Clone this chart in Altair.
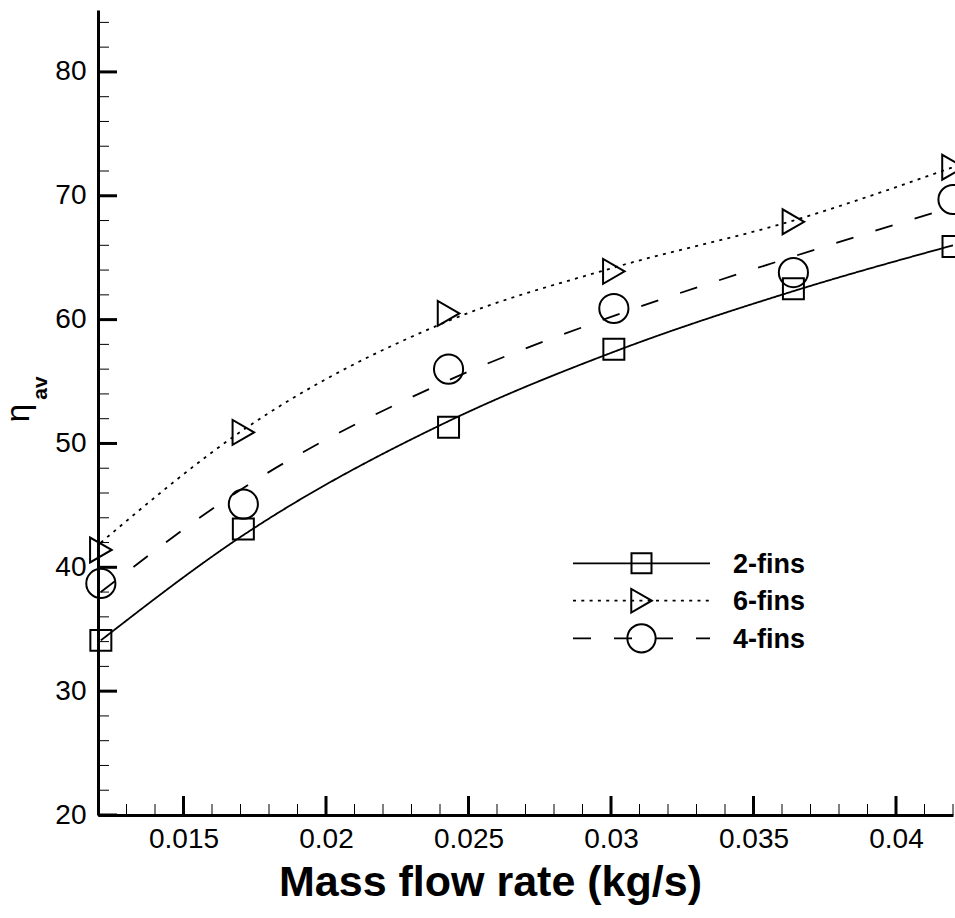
import altair as alt
import pandas as pd

# ---- data ----
mass_flow = [0.0121, 0.0171, 0.0243, 0.0301, 0.0364, 0.042]
fins2 = [34.1, 43.1, 51.3, 57.6, 62.5, 65.9]
fins6 = [41.4, 50.9, 60.5, 63.9, 67.9, 72.3]
fins4 = [38.7, 45.1, 56.0, 60.9, 63.8, 69.7]
# fitted curve values at the same abscissae
fit2 = [34.1, 42.6, 51.8, 57.4, 62.3, 66.0]
fit6 = [42.0, 51.1, 59.9, 64.2, 68.0, 72.3]
fit4 = [38.0, 46.4, 55.1, 60.3, 65.1, 69.1]

series_names = ["2-fins", "6-fins", "4-fins"]
x_major = [0.015, 0.02, 0.025, 0.03, 0.035, 0.04]
x_minor = [0.013, 0.014, 0.016, 0.017, 0.018, 0.019, 0.021, 0.022, 0.023, 0.024,
           0.026, 0.027, 0.028, 0.029, 0.031, 0.032, 0.033, 0.034, 0.036, 0.037,
           0.038, 0.039, 0.041, 0.042]
y_major = [20, 30, 40, 50, 60, 70, 80]
y_minor = [22, 24, 26, 28, 32, 34, 36, 38, 42, 44, 46, 48, 52, 54, 56, 58,
           62, 64, 66, 68, 72, 74, 76, 78, 82, 84]

# ---- styles ----
W, H = 855, 805
FONT = "Liberation Sans"
shapes = ["square", "triangle-right", "circle"]
sizes = [440, 620, 850]
dashes = [[1, 0], [3, 5.3], [18, 23]]

xs = alt.Scale(domain=[0.012, 0.042], nice=False, zero=False)
ys = alt.Scale(domain=[20, 85], nice=False, zero=False)

x_axis = alt.Axis(values=x_major, format="~g", ticks=False, grid=False,
                  domainWidth=3, domainColor="black",
                  labelFont=FONT, labelFontSize=28, labelColor="black",
                  labelPadding=10, labelFlush=False, labelOverlap=False,
                  title="Mass flow rate (kg/s)", titleFont=FONT, titleFontSize=43,
                  titleFontWeight="bold", titleColor="black",
                  titleX=392, titleY=80, titleAlign="center",
                  titleBaseline="alphabetic")
y_axis = alt.Axis(values=y_major, format="d", ticks=False, grid=False,
                  domainWidth=3, domainColor="black",
                  labelFont=FONT, labelFontSize=28, labelColor="black",
                  labelPadding=12, labelFlush=False, labelOverlap=False,
                  title=None)

X = alt.X("x:Q", scale=xs, axis=x_axis)
Y = alt.Y("y:Q", scale=ys, axis=y_axis)

layers = []
pts = [fins2, fins6, fins4]
fits = [fit2, fit6, fit4]
for i, name in enumerate(series_names):
    df_fit = pd.DataFrame({"x": mass_flow, "y": fits[i]})
    df_pts = pd.DataFrame({"x": mass_flow, "y": pts[i]})
    layers.append(
        alt.Chart(df_fit).mark_line(interpolate="monotone", color="black",
                                    strokeWidth=1.8, strokeDash=dashes[i])
        .encode(x=X, y=Y)
    )
    layers.append(
        alt.Chart(df_pts).mark_point(shape=shapes[i], size=sizes[i], filled=False,
                                     color="black", strokeWidth=2, opacity=1)
        .encode(x=X, y=Y)
    )

# ---- inward ticks ----
layers.append(alt.Chart(pd.DataFrame({"x": x_major})).mark_rule(color="black", strokeWidth=3)
              .encode(x=X, y=alt.value(H), y2=alt.value(H - 19)))
layers.append(alt.Chart(pd.DataFrame({"x": x_minor})).mark_rule(color="black", strokeWidth=1)
              .encode(x=X, y=alt.value(H), y2=alt.value(H - 11)))
layers.append(alt.Chart(pd.DataFrame({"y": y_major})).mark_rule(color="black", strokeWidth=3)
              .encode(y=Y, x=alt.value(0), x2=alt.value(19)))
layers.append(alt.Chart(pd.DataFrame({"y": y_minor})).mark_rule(color="black", strokeWidth=1)
              .encode(y=Y, x=alt.value(0), x2=alt.value(11)))

# ---- legend (drawn inside the plot) ----
leg_rows = [553.3, 590.7, 628.3]
leg_sizes = [400, 560, 800]
one = pd.DataFrame({"k": [0]})
for i, name in enumerate(series_names):
    ry = leg_rows[i]
    layers.append(alt.Chart(one).mark_rule(color="black", strokeWidth=1.8, strokeDash=dashes[i])
                  .encode(x=alt.value(475), x2=alt.value(612), y=alt.value(ry)))
    layers.append(alt.Chart(one).mark_point(shape=shapes[i], size=leg_sizes[i], filled=False,
                                            color="black", strokeWidth=2, opacity=1)
                  .encode(x=alt.value(543.5), y=alt.value(ry)))
    layers.append(alt.Chart(pd.DataFrame({"t": [name]}))
                  .mark_text(font=FONT, fontSize=27, fontWeight="bold", color="black",
                             align="left", baseline="alphabetic")
                  .encode(text="t:N", x=alt.value(635), y=alt.value(ry + 9.5)))

# ---- y title: eta with subscript "av" ----
layers.append(alt.Chart(pd.DataFrame({"t": ["η"]}))
              .mark_text(font=FONT, fontSize=33, color="black", angle=270,
                         align="center", baseline="alphabetic")
              .encode(text="t:N", x=alt.value(-69), y=alt.value(403)))
layers.append(alt.Chart(pd.DataFrame({"t": ["av"]}))
              .mark_text(font=FONT, fontSize=21, fontWeight="bold", color="black", angle=270,
                         align="center", baseline="alphabetic")
              .encode(text="t:N", x=alt.value(-51), y=alt.value(378)))

chart = alt.layer(*layers).properties(
    width=W, height=H,
    padding={"left": 98, "top": 10, "right": 2, "bottom": 103},
    autosize=alt.AutoSizeParams(type="none"),
    background="white",
).configure_view(stroke=None)

chart.save("out.html", embed_options={"renderer": "svg", "actions": False})
